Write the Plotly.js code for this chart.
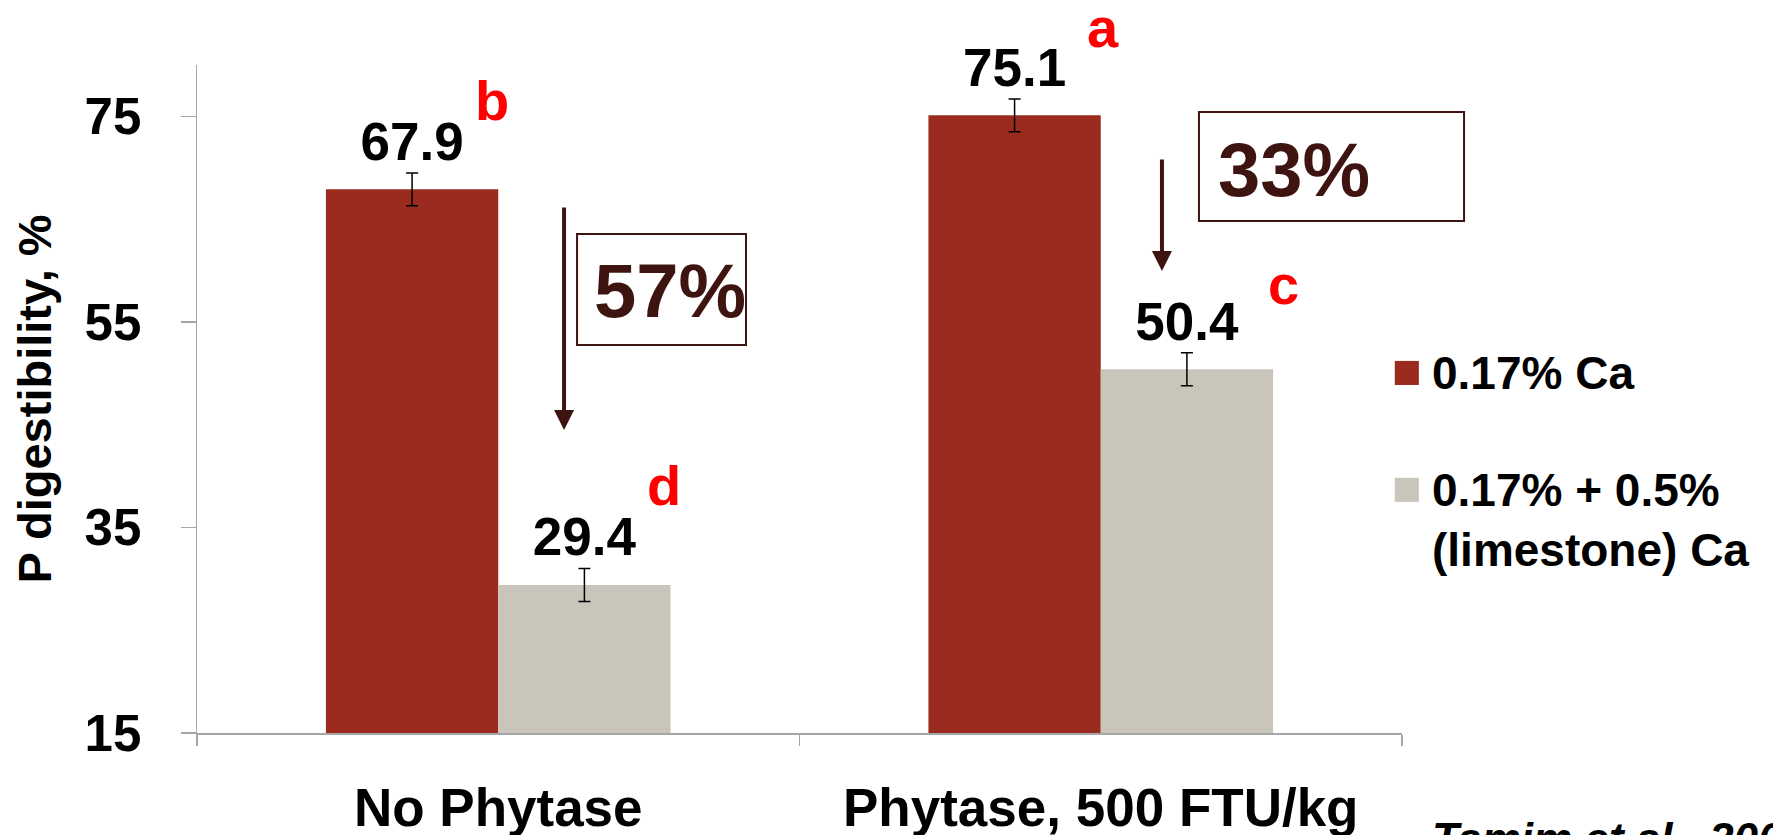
<!DOCTYPE html>
<html>
<head>
<meta charset="utf-8">
<script src="https://cdn.plot.ly/plotly-3.0.1.min.js"></script>
<style>
  html, body { margin: 0; padding: 0; background: #fff; }
  #chart { width: 1773px; height: 835px; }
</style>
</head>
<body>
<div id="chart"></div>
<script>
// ---- data ----
const categories = ["No Phytase", "Phytase, 500 FTU/kg"];
const seriesNames = ["0.17% Ca", "0.17% + 0.5%<br>(limestone) Ca"];
const lowCa = [67.9, 75.1];
const highCa = [29.4, 50.4];
const lowCaErr = [1.6, 1.6];
const highCaErr = [1.6, 1.6];
const sigLetters = [["b", "a"], ["d", "c"]];
const reductions = ["57%", "33%"];
const yTicks = [15, 35, 55, 75];
const citation = "Tamim et al., 2004";

// ---- styles ----
const FONT = "Liberation Sans, Arial, Helvetica, sans-serif";
const RED = "#9b2a1f";
const GREY = "#c9c5bb";
const BROWN = "#3d1410";

const bars = [
  {
    type: "bar", name: seriesNames[0], x: categories, y: lowCa,
    marker: { color: RED },
    error_y: { type: "data", array: lowCaErr, visible: true, color: "#000", thickness: 1.5, width: 6 },
    hoverinfo: "x+y", showlegend: false
  },
  {
    type: "bar", name: seriesNames[1], x: categories, y: highCa,
    marker: { color: GREY },
    error_y: { type: "data", array: highCaErr, visible: true, color: "#000", thickness: 1.5, width: 6 },
    hoverinfo: "x+y", showlegend: false
  }
];

function labelTrace(vals, errs) {
  return {
    type: "scatter", mode: "text", x: categories,
    y: vals.map((v, i) => v + errs[i]),
    text: vals.map(v => v.toFixed(1)),
    textposition: "top center",
    textfont: { family: FONT, size: 53, color: "#000", weight: 700 },
    cliponaxis: false, hoverinfo: "skip", showlegend: false
  };
}
const labels = [labelTrace(lowCa, lowCaErr), labelTrace(highCa, highCaErr)];

const annotations = [];
// significance letters
const letterPos = [
  [{ xs: -6, y: 0.9476 }, { xs: 2, y: 1.0554 }],
  [{ xs: 166, y: 0.3698 }, { xs: 183, y: 0.6707 }]
];
for (let s = 0; s < 2; s++) {
  for (let c = 0; c < 2; c++) {
    annotations.push({
      x: categories[c], xref: "x", y: letterPos[s][c].y, yref: "paper",
      xanchor: "center", yanchor: "middle",
      xshift: letterPos[s][c].xs, text: sigLetters[s][c], showarrow: false,
      font: { family: FONT, size: 56, color: "#ff0000", weight: 700 }
    });
  }
}
// arrows
annotations.push({ x: 0.3046, y: 0.4536, xref: "paper", yref: "paper", text: "", showarrow: true,
  ax: 0, ay: -224, arrowhead: 2, arrowsize: 1, arrowwidth: 4, arrowcolor: BROWN });
annotations.push({ x: 0.8008, y: 0.6916, xref: "paper", yref: "paper", text: "", showarrow: true,
  ax: 0, ay: -113, arrowhead: 2, arrowsize: 1, arrowwidth: 4, arrowcolor: BROWN });
// reduction texts
annotations.push({ x: 0.3925, y: 0.663, xref: "paper", yref: "paper", xanchor: "center", yanchor: "middle",
  text: reductions[0], showarrow: false,
  font: { family: FONT, size: 76, color: BROWN, weight: 700 } });
annotations.push({ x: 0.846, y: 0.843, xref: "paper", yref: "paper", xanchor: "left", yanchor: "middle",
  text: reductions[1], showarrow: false,
  font: { family: FONT, size: 76, color: BROWN, weight: 700 } });
// legend texts
annotations.push({ x: 1.0232, y: 0.539, xref: "paper", yref: "paper", xanchor: "left", yanchor: "middle",
  text: seriesNames[0], showarrow: false,
  font: { family: FONT, size: 46, color: "#000", weight: 700 } });
annotations.push({ x: 1.0232, y: 0.319, xref: "paper", yref: "paper", xanchor: "left", yanchor: "middle", align: "left",
  text: seriesNames[1], showarrow: false,
  font: { family: FONT, size: 46, color: "#000", weight: 700 } });
// citation
annotations.push({ x: 1.023, y: -0.118, xref: "paper", yref: "paper", xanchor: "left", yanchor: "top",
  text: "<i>" + citation + "</i>", showarrow: false,
  font: { family: FONT, size: 44, color: "#000", weight: 700 } });

const shapes = [
  { type: "rect", xref: "paper", yref: "paper", x0: 0.3154, x1: 0.4556, y0: 0.5808, y1: 0.747,
    line: { color: BROWN, width: 2 }, fillcolor: "rgba(0,0,0,0)" },
  { type: "rect", xref: "paper", yref: "paper", x0: 0.8315, x1: 1.0515, y0: 0.7665, y1: 0.9296,
    line: { color: BROWN, width: 2 }, fillcolor: "rgba(0,0,0,0)" },
  // legend swatches
  { type: "rect", xref: "paper", yref: "paper", x0: 0.994, x1: 1.014, y0: 0.521, y1: 0.557,
    line: { width: 0 }, fillcolor: RED },
  { type: "rect", xref: "paper", yref: "paper", x0: 0.994, x1: 1.014, y0: 0.346, y1: 0.382,
    line: { width: 0 }, fillcolor: GREY }
];

const layout = {
  width: 1773, height: 835,
  margin: { l: 197, r: 371, t: 65, b: 102 },
  paper_bgcolor: "#fff", plot_bgcolor: "#fff",
  barmode: "group", bargap: 0.428, bargroupgap: 0,
  scattermode: "group", scattergap: 0.428,
  showlegend: false,
  font: { family: FONT, color: "#000" },
  xaxis: {
    type: "category", showgrid: false, zeroline: false,
    showline: true, linecolor: "#a6a6a6", linewidth: 1.5,
    ticks: "outside", tickson: "boundaries", ticklen: 11, tickcolor: "#a6a6a6", tickwidth: 1.5,
    ticklabelstandoff: 28,
    tickfont: { family: FONT, size: 53, color: "#000", weight: 700 }
  },
  yaxis: {
    range: [15, 80], tickvals: yTicks, ticktext: yTicks.map(String),
    showgrid: false, zeroline: false,
    showline: true, linecolor: "#a6a6a6", linewidth: 1.5,
    ticks: "outside", ticklen: 15, tickcolor: "#a6a6a6", tickwidth: 1.5,
    ticklabelstandoff: 29,
    tickfont: { family: FONT, size: 51, color: "#000", weight: 700 },
    title: { text: "P digestibility, %", standoff: 18, font: { family: FONT, size: 47, color: "#000", weight: 700 } }
  },
  annotations: annotations,
  shapes: shapes
};

Plotly.newPlot("chart", bars.concat(labels), layout, { displayModeBar: false, staticPlot: true });
</script>
</body>
</html>
